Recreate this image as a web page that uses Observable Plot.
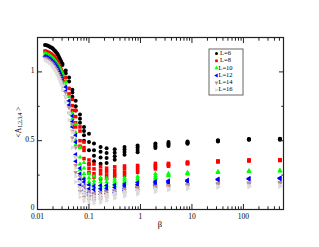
<!DOCTYPE html>
<html><head><meta charset="utf-8">
<script src="https://cdn.jsdelivr.net/npm/d3@7"></script>
<script src="https://cdn.jsdelivr.net/npm/@observablehq/plot@0.6"></script>
<style>
body{margin:0;background:#fff}
#chart{position:relative;width:319px;height:247px}
#chart svg{display:block}
</style>
</head><body><div id="chart"></div>
<script>
// ---------- data ----------
const betas = [0.014,0.015,0.016,0.017,0.018,0.019,0.020,0.021,0.022,0.023,0.024,0.025,0.026,0.027,0.028,0.029,
  0.0305,0.0353,0.041,0.0476,0.0552,0.0669,0.08,0.1,0.125,0.168,0.22,0.316,0.49,0.88,1.95,3.5,8.2,32,128,512];

const L6 = [[1.196],[1.193],[1.19],[1.185],[1.18],[1.175],[1.168],[1.16],[1.152],[1.143],[1.133],[1.122],[1.11],[1.098],[1.085],[1.072],
  [1.06,1.05],[1.01,0.99],[0.96,0.93],[0.87,0.85,0.82],[0.79,0.75,0.72],[0.69,0.66,0.63],[0.60,0.57,0.54,0.50],[0.55,0.49,0.43,0.33],
  [0.48,0.43,0.39,0.35],[0.455,0.42,0.378,0.332],[0.445,0.41,0.375,0.338],[0.437,0.413,0.387,0.362],[0.455,0.436,0.417,0.398],
  [0.465,0.45,0.433,0.416],[0.48,0.469,0.458,0.447],[0.49,0.48,0.47,0.462],[0.495,0.488,0.482,0.478],[0.503,0.5,0.498,0.495],
  [0.512,0.51,0.508,0.506],[0.515,0.512,0.51,0.507]];

const L8 = [[1.152],[1.148],[1.143],[1.138],[1.132],[1.126],[1.118],[1.11],[1.10],[1.09],[1.078],[1.066],[1.053],[1.04],[1.027],[1.013],
  [1.0,0.98],[0.96,0.93],[0.88,0.84],[0.80,0.755,0.72],[0.72,0.675,0.63,0.60],[0.60,0.57,0.50,0.46],[0.49,0.45,0.43,0.37],[0.36,0.33,0.30,0.27],
  [0.33,0.295,0.26,0.235],[0.312,0.285,0.259,0.222],[0.30,0.275,0.25,0.225],[0.31,0.285,0.26,0.24],[0.316,0.295,0.27,0.248],
  [0.32,0.305,0.287,0.27],[0.335,0.32,0.308,0.295],[0.335,0.328,0.32,0.315],[0.345,0.34,0.335,0.332],[0.353,0.35,0.348,0.346],
  [0.36,0.357,0.355,0.353],[0.362,0.36,0.358,0.356]];

const L10 = [[1.135],[1.13],[1.125],[1.12],[1.113],[1.106],[1.098],[1.09],[1.08],[1.07],[1.06],[1.05],[1.04],[1.03],[1.018],[1.005],
  [0.99,0.97],[0.93,0.90],[0.82,0.79],[0.70,0.66,0.62],[0.62,0.56,0.505,0.47],[0.45,0.38,0.33,0.29],[0.34,0.30,0.26,0.23],[0.26,0.23,0.2,0.18],
  [0.24,0.21,0.19,0.165],[0.23,0.2,0.175,0.155],[0.225,0.2,0.175,0.15],[0.22,0.205,0.19,0.17],[0.23,0.215,0.2,0.185],
  [0.24,0.225,0.212,0.2],[0.26,0.245,0.232,0.22],[0.262,0.255,0.25,0.245],[0.27,0.265,0.26,0.257],[0.275,0.272,0.27,0.268],
  [0.282,0.279,0.277,0.275],[0.284,0.282,0.28,0.278]];

const L12 = [[1.114],[1.11],[1.104],[1.097],[1.09],[1.082],[1.073],[1.064],[1.055],[1.045],[1.034],[1.022],[1.01],[0.995],[0.98],[0.965],
  [0.95,0.93],[0.89,0.86],[0.79,0.76],[0.68,0.64,0.60],[0.54,0.49,0.40,0.35],[0.30,0.26,0.22,0.18],[0.22,0.2,0.17,0.14],[0.18,0.15,0.125,0.105],
  [0.17,0.145,0.12,0.1],[0.175,0.15,0.13,0.11],[0.175,0.155,0.135,0.115],[0.178,0.16,0.142,0.125],[0.185,0.17,0.155,0.14],
  [0.196,0.182,0.17,0.16],[0.205,0.195,0.185,0.175],[0.21,0.203,0.198,0.193],[0.215,0.21,0.206,0.203],[0.222,0.219,0.217,0.215],
  [0.227,0.224,0.222,0.22],[0.23,0.227,0.225,0.223]];

const L14 = [[1.10],[1.095],[1.088],[1.08],[1.072],[1.063],[1.053],[1.042],[1.03],[1.018],[1.005],[0.99],[0.975],[0.96],[0.945],[0.93],
  [0.92,0.90],[0.85,0.82],[0.74,0.70],[0.62,0.57,0.52],[0.45,0.38,0.32,0.27],[0.24,0.2,0.16,0.13],[0.17,0.14,0.11,0.09],[0.13,0.11,0.09,0.07],
  [0.12,0.1,0.08,0.065],[0.125,0.105,0.085,0.07],[0.13,0.115,0.1,0.085],[0.14,0.125,0.11,0.1],[0.15,0.14,0.125,0.115],
  [0.16,0.15,0.14,0.13],[0.17,0.162,0.155,0.148],[0.175,0.17,0.165,0.16],[0.183,0.178,0.174,0.17],[0.19,0.187,0.184,0.181],
  [0.194,0.191,0.188,0.185],[0.197,0.194,0.191,0.188]];

const L16 = [[1.088],[1.082],[1.075],[1.067],[1.058],[1.048],[1.037],[1.025],[1.012],[0.998],[0.984],[0.97],[0.955],[0.94],[0.925],[0.91],
  [0.9,0.87],[0.82,0.78],[0.70,0.65],[0.56,0.5,0.45],[0.38,0.3,0.24,0.2],[0.2,0.16,0.12,0.09],[0.14,0.11,0.08,0.06],[0.11,0.085,0.065,0.045],
  [0.1,0.08,0.06,0.045],[0.105,0.085,0.065,0.05],[0.11,0.095,0.08,0.065],[0.12,0.105,0.09,0.08],[0.13,0.12,0.105,0.095],
  [0.14,0.13,0.12,0.11],[0.15,0.142,0.135,0.128],[0.155,0.15,0.145,0.14],[0.162,0.157,0.153,0.149],[0.168,0.165,0.162,0.159],
  [0.172,0.169,0.166,0.163],[0.175,0.172,0.169,0.166]];

const seriesLabels = ["L=6","L=8","L=10","L=12","L=14","L=16"];
const seriesValues = [L6, L8, L10, L12, L14, L16];

const xTicks = [0.01, 0.1, 1, 10, 100];
const xTickLabels = ["0.01", "0.1", "1", "10", "100"];
const yTicks = [0, 0.5, 1];
const yTickLabels = ["0", "0.5", "1"];
const yMinorTicks = [0.25, 0.75];

// ---------- styles ----------
const colors = ["#000000", "#ff0000", "#00ff00", "#0000ff", "#bc8f8f", "#dcdcdc"];
function rotatedTriangle(deg) {
  const a = deg * Math.PI / 180, c = Math.cos(a), s = Math.sin(a);
  return {draw(ctx, size) {
    const y = -Math.sqrt(size / (Math.sqrt(3) * 3));
    const pts = [[0, y * 2], [-Math.sqrt(3) * y, -y], [Math.sqrt(3) * y, -y]];
    pts.forEach(([px, py], i) => {
      const X = px * c - py * s, Y = px * s + py * c;
      i ? ctx.lineTo(X, Y) : ctx.moveTo(X, Y);
    });
    ctx.closePath();
  }};
}
const symbols = [d3.symbolCircle, d3.symbolSquare, rotatedTriangle(0), rotatedTriangle(-90), rotatedTriangle(180), rotatedTriangle(90)];
const radii = [2.0, 2.0, 1.75, 1.75, 1.75, 1.75];

// ---------- table ----------
const table = [];
seriesValues.forEach((vals, k) => {
  vals.forEach((col, j) => col.forEach(v => table.push({k, beta: betas[j], value: v})));
});

const xMinor = [];
for (let e = -2; e <= 2; e++) for (let m = 2; m <= 9; m++) { const v = m * Math.pow(10, e); if (v <= 600) xMinor.push(v); }

const font = "'Liberation Serif', 'Times New Roman', serif";
const tickStroke = {stroke: "#222", strokeWidth: 1};

const plot = Plot.plot({
  width: 319, height: 247,
  marginLeft: 37, marginRight: 36, marginTop: 37, marginBottom: 38,
  style: {fontFamily: font, fontSize: "7.5px", background: "#fff", color: "#000"},
  x: {type: "log", domain: [0.01, 600], axis: null},
  y: {domain: [0, 1.25], axis: null},
  marks: [
    ...seriesValues.map((_, k) => Plot.dot(table.filter(d => d.k === k), {
      x: "beta", y: "value", symbol: symbols[k], fill: colors[k], r: radii[k]
    })),
    // ticks inward on all four sides
    Plot.axisX(xTicks, {anchor: "bottom", tickSize: -5, tickFormat: () => "", label: null, ...tickStroke}),
    Plot.axisX(xMinor, {anchor: "bottom", tickSize: -2.7, tickFormat: () => "", label: null, ...tickStroke}),
    Plot.axisX(xTicks, {anchor: "top", tickSize: -5, tickFormat: () => "", label: null, ...tickStroke}),
    Plot.axisX(xMinor, {anchor: "top", tickSize: -2.7, tickFormat: () => "", label: null, ...tickStroke}),
    Plot.axisY(yTicks, {anchor: "left", tickSize: -5, tickFormat: () => "", label: null, ...tickStroke}),
    Plot.axisY(yMinorTicks, {anchor: "left", tickSize: -2.7, tickFormat: () => "", label: null, ...tickStroke}),
    Plot.axisY(yTicks, {anchor: "right", tickSize: -5, tickFormat: () => "", label: null, ...tickStroke}),
    Plot.axisY(yMinorTicks, {anchor: "right", tickSize: -2.7, tickFormat: () => "", label: null, ...tickStroke}),
    // labels
    Plot.axisX(xTicks, {anchor: "bottom", tickSize: 0, tickPadding: 4, label: null, fill: "#000",
      tickFormat: d => xTickLabels[xTicks.indexOf(d)]}),
    Plot.axisY(yTicks, {anchor: "left", tickSize: 0, tickPadding: 3, dy: -1.5, label: null, fill: "#000",
      tickFormat: d => yTickLabels[yTicks.indexOf(d)]}),
    Plot.frame({stroke: "#222", strokeWidth: 1.2})
  ]
});
document.getElementById("chart").appendChild(plot);

// ---------- axis titles and legend ----------
const svg = d3.select(plot);
svg.append("text").attr("x", 160).attr("y", 225).attr("text-anchor", "middle").attr("fill", "#000")
  .attr("dominant-baseline", "middle").attr("font-family", font).attr("font-size", 8.5).text("β");

const yl = svg.append("text").attr("transform", "translate(19,122) rotate(-90)").attr("fill", "#000")
  .attr("text-anchor", "middle").attr("dominant-baseline", "middle")
  .attr("font-family", font).attr("font-size", 7.5);
yl.append("tspan").text("<A");
yl.append("tspan").attr("font-size", 5.5).attr("dy", 1.5).text("1,2,3,4");
yl.append("tspan").attr("dy", -1.5).text(" >");

const lg = svg.append("g");
lg.append("rect").attr("x", 209).attr("y", 49).attr("width", 34).attr("height", 46)
  .attr("fill", "#fff").attr("stroke", "#666").attr("stroke-width", 1);
seriesLabels.forEach((lab, k) => {
  const cy = 53.5 + k * 7.3;
  lg.append("path").attr("transform", `translate(216.5,${cy})`)
    .attr("d", d3.symbol(symbols[k], Math.PI * 1.5 * 1.5)())
    .attr("fill", colors[k]);
  lg.append("text").attr("x", 225.5).attr("y", cy).attr("dominant-baseline", "middle").attr("fill", "#000")
    .attr("font-family", font).attr("font-size", 6.5).text(lab);
});
</script>
</body></html>
